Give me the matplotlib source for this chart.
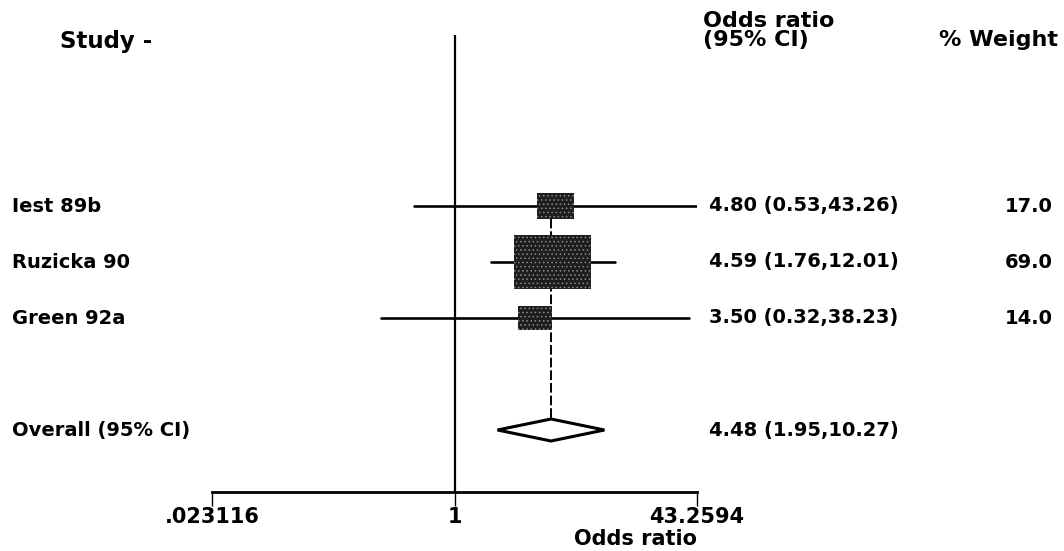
"""
Forest plot (odds ratios, fixed-effect meta-analysis) in the old Stata metan style
"""

import numpy as np
import matplotlib.pyplot as plt
import matplotlib as mpl
from matplotlib.patches import Rectangle, Polygon
from matplotlib.transforms import blended_transform_factory

################################################################################
# Data
studies  = ['Iest 89b', 'Ruzicka 90', 'Green 92a']
or_est   = [4.80, 4.59, 3.50]
ci_low   = [0.53, 1.76, 0.32]
ci_high  = [43.26, 12.01, 38.23]
weights  = [17.0, 69.0, 14.0]
pooled_label = 'Overall (95% CI)'
pooled   = [4.48, 1.95, 10.27]   # estimate, lower, upper
x_ticks  = [0.023116, 1, 43.2594]
x_tick_labels = ['.023116', '1', '43.2594']

################################################################################
plt.rcParams['font.family'] = ['DejaVu Sans']
plt.rcParams['font.weight'] = 'bold'
plt.rcParams['axes.labelweight'] = 'bold'
plt.rcParams['hatch.color'] = '#8a8a8a'
plt.rcParams['hatch.linewidth'] = 0.6

W, H = 1064, 551
fig = plt.figure(figsize=(W/100, H/100), dpi=100)
# axes box in pixel terms: x 212..697, y 35..492 (from the top)
ax = fig.add_axes([212/W, (H-492)/H, (697-212)/W, (492-35)/H])
ax.set_xscale('log')
ax.set_xlim(x_ticks[0], x_ticks[-1])
# rows are 56 px apart, first row at y=206 px
row_px = 56
ax.set_ylim(1 + (492-206)/row_px, 1 + (35-206)/row_px)

rows = np.arange(1, len(studies)+1)
pooled_row = len(studies) + 2

# px -> log-x units
lnx_per_px = (np.log(x_ticks[-1]) - np.log(x_ticks[0])) / (697-212)

# null line and pooled estimate line
ax.axvline(1, color='k', lw=1.6, zorder=1)
ax.plot([pooled[0], pooled[0]], [rows[0], pooled_row], color='k', lw=1.4,
        linestyle=(0, (5, 1.5)), zorder=1)

for r, est, lo, hi, w in zip(rows, or_est, ci_low, ci_high, weights):
    ax.plot([lo, hi], [r, r], color='k', lw=1.9, solid_capstyle='round', zorder=2)
    # box area proportional to weight (scan is stretched, so boxes are wide)
    w_px = 9.2*np.sqrt(w)
    h_px = w_px/1.42
    half = 0.5*w_px*lnx_per_px
    x0 = est*np.exp(-half)
    x1 = est*np.exp(half)
    ax.add_patch(Rectangle((x0, r - 0.5*h_px/row_px), x1-x0, h_px/row_px,
                           facecolor='#1e1e1e', hatch='....', lw=0, zorder=3))

# pooled diamond
dh = 11/row_px
ax.add_patch(Polygon([(pooled[1], pooled_row), (pooled[0], pooled_row-dh),
                      (pooled[2], pooled_row), (pooled[0], pooled_row+dh)],
                     closed=True, facecolor='white', edgecolor='k', lw=2.2,
                     joinstyle='miter', zorder=3))

# axis styling: only the bottom baseline with three ticks
for side in ['top', 'left', 'right']:
    ax.spines[side].set_visible(False)
ax.spines['bottom'].set_linewidth(2.0)
ax.set_yticks([])
ax.set_xticks(x_ticks)
ax.set_xticklabels(x_tick_labels)
ax.minorticks_off()
ax.tick_params(axis='x', length=10, width=1.0, pad=1, labelsize=15)
ax.set_xlabel('Odds ratio', fontsize=15, ha='right', va='center')
ax.xaxis.set_label_coords(1.0, (492-539)/(492-35))

# text columns (figure x, data y)
tr = blended_transform_factory(fig.transFigure, ax.transData)
for r, name, est, lo, hi, w in zip(rows, studies, or_est, ci_low, ci_high, weights):
    ax.text(12/W, r, name, transform=tr, fontsize=14, va='center', ha='left')
    ax.text(709/W, r, f'{est:.2f} ({lo:.2f},{hi:.2f})', transform=tr,
            fontsize=14, va='center', ha='left')
    ax.text(1053/W, r, f'{w:.1f}', transform=tr, fontsize=14, va='center', ha='right')
ax.text(12/W, pooled_row, pooled_label, transform=tr, fontsize=14, va='center', ha='left')
ax.text(709/W, pooled_row, f'{pooled[0]:.2f} ({pooled[1]:.2f},{pooled[2]:.2f})',
        transform=tr, fontsize=14, va='center', ha='left')

# headers
fig.text(60/W, 1-41/H, 'Study -', fontsize=16.5, va='center', ha='left')
fig.text(703/W, 1-21/H, 'Odds ratio', fontsize=16, va='center', ha='left')
fig.text(703/W, 1-40/H, '(95% CI)', fontsize=16, va='center', ha='left')
fig.text(1058/W, 1-40/H, '% Weight', fontsize=16, va='center', ha='right')

fig.savefig('out.png', dpi=100, facecolor='white')
